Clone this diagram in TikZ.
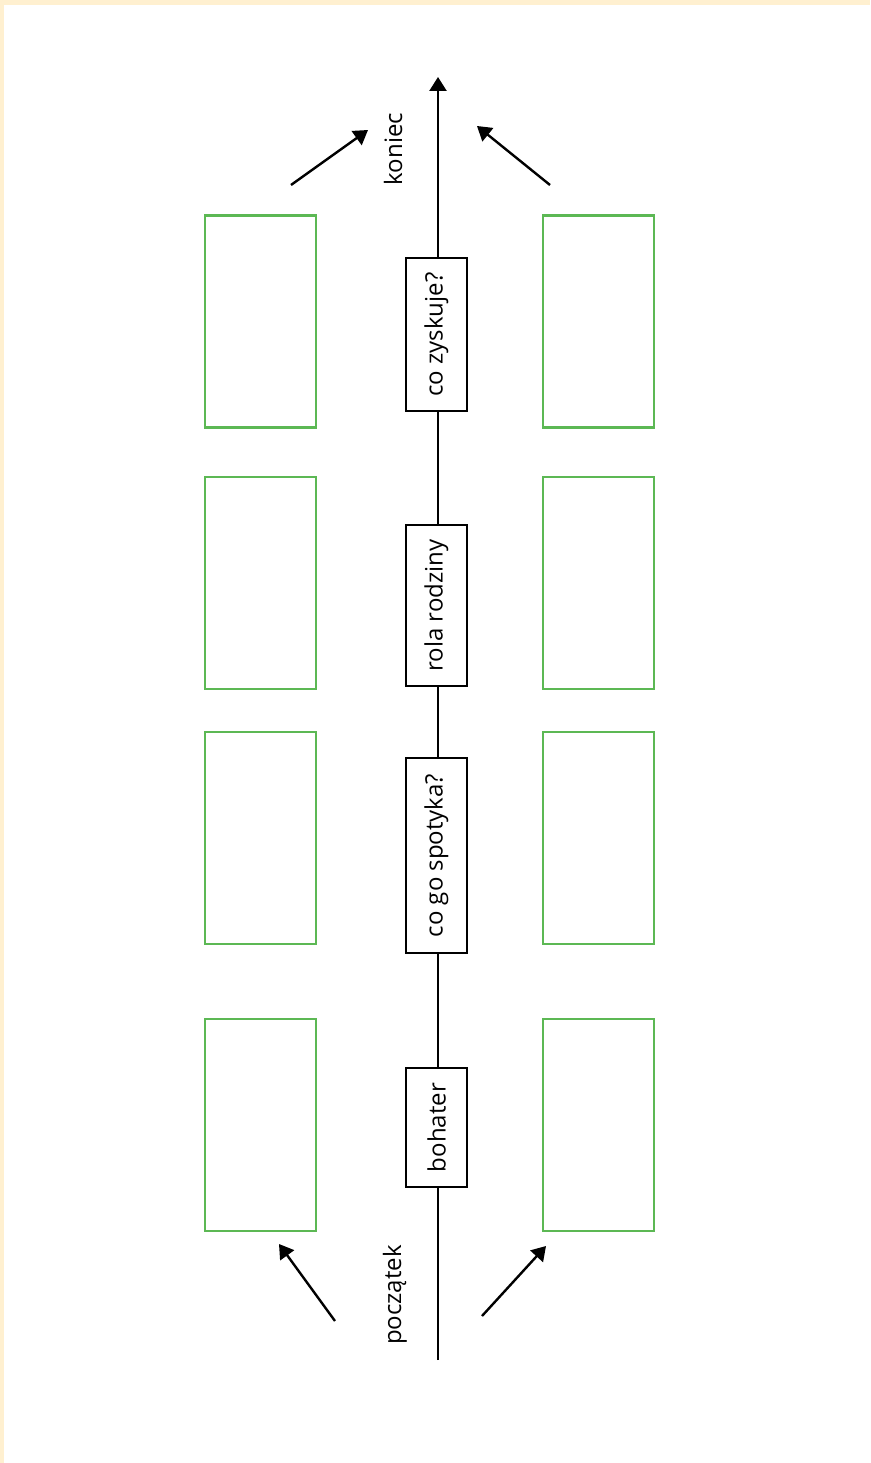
\documentclass[tikz,border=0pt]{standalone}
\usepackage{fontspec}
\setmainfont{Open Sans}
\usetikzlibrary{arrows.meta}
\definecolor{cream}{RGB}{255,240,208}
\definecolor{boxgreen}{RGB}{92,184,84}
\begin{document}
\begin{tikzpicture}[x=1pt,y=-1pt,
  label/.style={draw=black,line width=2.2pt,minimum height=61pt,inner sep=0pt,rotate=90,fill=white,font=\fontsize{24}{26}\selectfont,anchor=center},
  greenbox/.style={draw=boxgreen,line width=2.2pt,minimum width=111pt,minimum height=212pt,inner sep=0pt},
  flow/.style={line width=2.4pt,-{Triangle[length=14pt,width=17pt]}},
  words/.style={rotate=90,font=\fontsize{24}{26}\selectfont,inner sep=0pt}]
\useasboundingbox (0,0) rectangle (870,1463);
\fill[cream] (0,0) rectangle (870,1463);
\fill[white] (4,5) rectangle (870,1463);
% main line
\coordinate (start) at (438,1360);
\coordinate (finish) at (438,77);
\draw[flow] (start) -- (finish);
% labels on the line
\node[label,minimum width=153pt] (zysk) at (436.5,334.5) {co zyskuje?};
\node[label,minimum width=161pt] (rola) at (436.5,605.5) {rola rodziny};
\node[label,minimum width=195pt] (spot) at (436.5,855.5) {co go spotyka?};
\node[label,minimum width=119pt] (boh) at (436.5,1127.5) {bohater};
% green boxes
\foreach \n/\y in {1/321.5,2/583,3/838,4/1125}{
  \node[greenbox] (L\n) at (260.5,\y) {};
  \node[greenbox] (R\n) at (598.5,\y) {};
}
% words
\node[words] (kon) at (393,149) {koniec};
\node[words] (pocz) at (395,1295) {początek};
% side arrows
\coordinate (a1s) at (291,185); \coordinate (a1e) at (368,130);
\coordinate (a2s) at (550,185); \coordinate (a2e) at (477,126);
\coordinate (a3s) at (335,1321); \coordinate (a3e) at (279,1244);
\coordinate (a4s) at (482,1316); \coordinate (a4e) at (546,1246);
\draw[flow] (a1s) -- (a1e);
\draw[flow] (a2s) -- (a2e);
\draw[flow] (a3s) -- (a3e);
\draw[flow] (a4s) -- (a4e);
\end{tikzpicture}
\end{document}
